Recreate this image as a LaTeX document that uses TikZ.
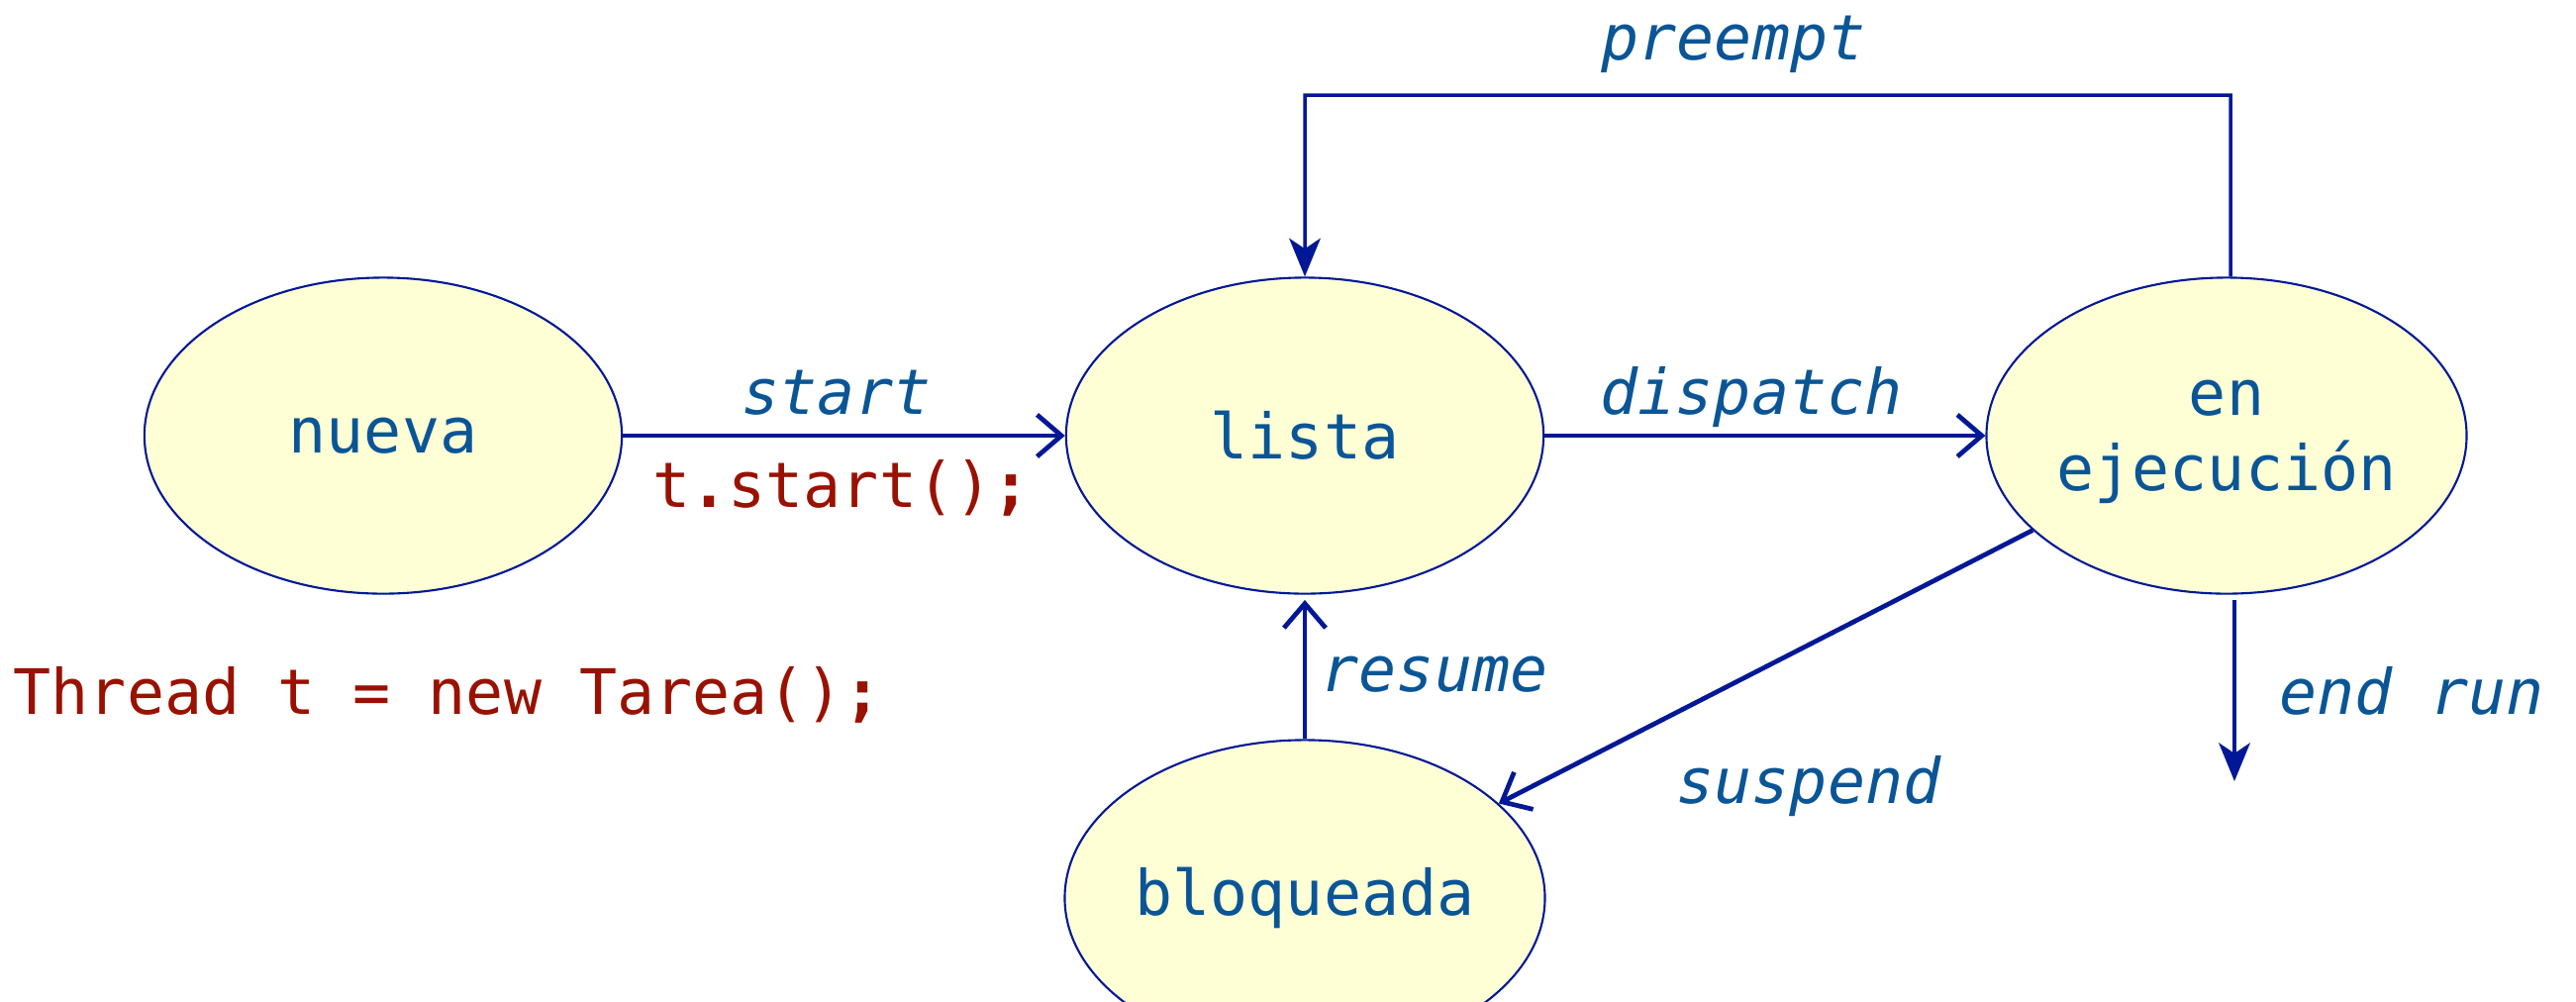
\documentclass[tikz,border=0pt]{standalone}
\usepackage{fontspec}
\setmainfont{DejaVu Sans Mono}
\usetikzlibrary{shapes.geometric,arrows.meta}
\definecolor{lineblue}{RGB}{0,24,150}
\definecolor{txtblue}{RGB}{10,85,150}
\definecolor{codered}{RGB}{153,17,0}
\definecolor{statefill}{RGB}{255,255,214}
\begin{document}
\begin{tikzpicture}[x=0.01cm,y=-0.01cm,
  state/.style={ellipse,draw=lineblue,line width=0.6pt,fill=statefill,
    minimum width=4.82cm,minimum height=3.19cm,inner sep=0pt,
    text=txtblue,align=center,font=\fontsize{18}{21.6}\selectfont},
  lbl/.style={text=txtblue,font=\fontsize{18}{21.6}\selectfont\itshape,inner sep=0pt},
  code/.style={text=codered,font=\fontsize{18}{21.6}\selectfont,inner sep=0pt},
  conn/.style={draw=lineblue,line width=1.35pt,-{Straight Barb[length=7pt,width=12pt,line width=1.35pt]}},
  connv/.style={draw=lineblue,line width=1pt,-{Stealth[length=11pt,width=9pt,inset=3pt]}}]
\useasboundingbox (0,0) rectangle (2602,1011);
\node[state] (nueva) at (387,440) {nueva};
\node[state] (lista) at (1318,440) {lista};
\node[state,text depth=0pt] (ejec) at (2249,440) {en\\ejecución};
\node[state] (bloq) at (1318,907) {bloqueada};
\coordinate (top) at (2253,96);
\coordinate (endrun) at (2257,789);
\coordinate (endrunstart) at (2257,606);
\draw[conn] (nueva) -- (lista);
\draw[conn] (lista) -- (ejec);
\draw[connv] ([xshift=0.04cm]ejec.north) -- (top) -| (lista.north);
\draw[conn,line width=1.1pt,shorten >=1.5pt] (bloq.north) -- (lista.south);
\draw[conn] (ejec.206.7) -- (bloq.26.5);
\draw[connv] (endrunstart) -- (endrun);
\node[lbl,anchor=base] (lstart) at (845,418) {start};
\node[code,anchor=base] (lcode) at (850,512) {t\textbf{.}start()\textbf{;}};
\node[lbl,anchor=base] (ldisp) at (1769,418) {dispatch};
\node[lbl,anchor=base] (lpre) at (1751,60) {preempt};
\node[code,anchor=base west] (lthread) at (13,721) {Thread t = new Tarea()\textbf{;}};
\node[lbl,anchor=base west] (lres) at (1334,698) {resume};
\node[lbl,anchor=base] (lsusp) at (1827,811) {suspend};
\node[lbl,anchor=base west] (lend) at (2302,721) {end run};
\end{tikzpicture}
\end{document}
